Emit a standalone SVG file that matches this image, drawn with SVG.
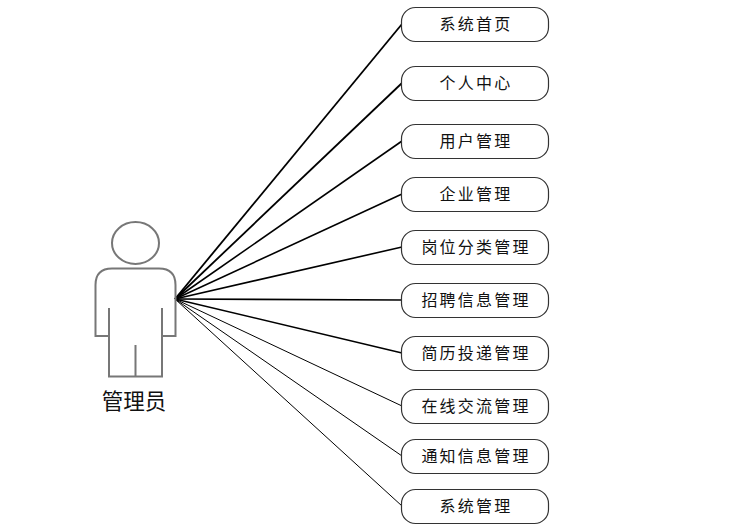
<svg xmlns="http://www.w3.org/2000/svg" width="749" height="529" viewBox="0 0 749 529">
<style>
.n rect{fill:#fff;stroke:#333;stroke-width:1.2}
.n text{font-family:"Noto Sans CJK SC",sans-serif;font-size:16px;letter-spacing:2.2px;text-anchor:middle;fill:#111}
.c line{stroke:#000}
.a{fill:none;stroke:#777;stroke-width:2}
</style>
<rect width="749" height="529" fill="#fff"/>
<g id="connectors" class="c">
<line x1="175" y1="299" x2="402" y2="24" stroke-width="1.8"/>
<line x1="175" y1="299" x2="402" y2="83" stroke-width="1.8"/>
<line x1="175" y1="299" x2="402" y2="141" stroke-width="1.6"/>
<line x1="175" y1="299" x2="402" y2="194" stroke-width="1.6"/>
<line x1="175" y1="299" x2="402" y2="247" stroke-width="1.6"/>
<line x1="175" y1="299" x2="402" y2="300" stroke-width="1.6"/>
<line x1="175" y1="299" x2="402" y2="353" stroke-width="1.6"/>
<line x1="175" y1="299" x2="402" y2="406" stroke-width="1"/>
<line x1="175" y1="299" x2="402" y2="456" stroke-width="1"/>
<line x1="175" y1="299" x2="402" y2="506" stroke-width="1"/>
</g>
<g id="actor">
<ellipse class="a" cx="135.500" cy="243" rx="23.500" ry="21"/>
<path class="a" d="M109 336H95.500V285Q95.500 268.500 112 268.500H159Q175.500 268.500 175.500 285V336H162M109 308V376.500H162V308M135.500 345V376.500"/>
<text x="134" y="409" font-family="Noto Sans CJK SC,sans-serif" font-size="21.500" text-anchor="middle" fill="#111">管理员</text>
</g>
<g id="n1" class="n"><rect x="401.500" y="7.500" width="147" height="34" rx="14"/><text x="476" y="30">系统首页</text></g>
<g id="n2" class="n"><rect x="401.500" y="66.500" width="147" height="34" rx="14"/><text x="476" y="89">个人中心</text></g>
<g id="n3" class="n"><rect x="401.500" y="124.500" width="147" height="34" rx="14"/><text x="476" y="147">用户管理</text></g>
<g id="n4" class="n"><rect x="401.500" y="177.500" width="147" height="34" rx="14"/><text x="476" y="200">企业管理</text></g>
<g id="n5" class="n"><rect x="401.500" y="230.500" width="147" height="34" rx="14"/><text x="476" y="253">岗位分类管理</text></g>
<g id="n6" class="n"><rect x="401.500" y="283.500" width="147" height="34" rx="14"/><text x="476" y="306">招聘信息管理</text></g>
<g id="n7" class="n"><rect x="401.500" y="336.500" width="147" height="34" rx="14"/><text x="476" y="359">简历投递管理</text></g>
<g id="n8" class="n"><rect x="401.500" y="389.500" width="147" height="34" rx="14"/><text x="476" y="412">在线交流管理</text></g>
<g id="n9" class="n"><rect x="401.500" y="439.500" width="147" height="34" rx="14"/><text x="476" y="462">通知信息管理</text></g>
<g id="n10" class="n"><rect x="401.500" y="489.500" width="147" height="34" rx="14"/><text x="476" y="512">系统管理</text></g>
</svg>
